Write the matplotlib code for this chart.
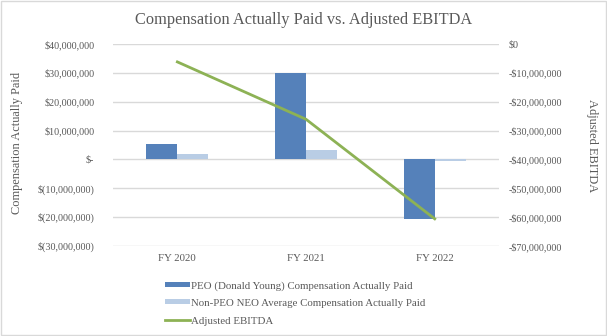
import numpy as np
import matplotlib.pyplot as plt
from matplotlib.ticker import FuncFormatter, FixedLocator
from matplotlib.patches import Rectangle

plt.rcParams['font.family'] = ['Liberation Serif', 'DejaVu Serif']

# données
annees = ["FY 2020", "FY 2021", "FY 2022"]
peo = [5.3e6, 30.0e6, -20.7e6]
non_peo = [1.8e6, 3.4e6, -0.5e6]
ebitda = [-6.2e6, -26.1e6, -60.6e6]

gris = "#595959"
c_peo = "#5581BA"
c_non = "#B9CDE5"
c_line = "#8DB255"

def fmt_gauche(v, pos):
    if abs(v) < 1:
        return "$-"
    if v < 0:
        return "$({:,.0f})".format(-v)
    return "${:,.0f}".format(v)

def fmt_droite(v, pos):
    if abs(v) < 1:
        return "$0"
    if v < 0:
        return "-${:,.0f}".format(-v)
    return "${:,.0f}".format(v)

fig = plt.figure(figsize=(6.07, 3.36), dpi=100)
fig.patches.append(Rectangle((0.001, 0.002), 0.997, 0.995, transform=fig.transFigure,
                             fill=False, edgecolor="#D9D9D9", linewidth=1))
ax = fig.add_axes([0.1862, 0.268, 0.636, 0.601])
x = np.arange(len(annees))
w = 0.24
b1 = ax.bar(x - w/2, peo, w, color=c_peo, label="PEO (Donald Young) Compensation Actually Paid", zorder=2)
b2 = ax.bar(x + w/2, non_peo, w, color=c_non, label="Non-PEO NEO Average Compensation Actually Paid", zorder=2)
ax.set_xlim(-0.5, 2.5)
ax.set_ylim(-30e6, 40e6)
ax.yaxis.set_major_locator(FixedLocator(np.arange(-30e6, 40e6 + 1, 10e6)))
ax.yaxis.set_major_formatter(FuncFormatter(fmt_gauche))
ax.set_xticks(x)
ax.set_xticklabels(annees)
ax.grid(axis="y", color="#D9D9D9", linewidth=1, zorder=0)
ax.set_axisbelow(True)
for s in ax.spines.values():
    s.set_visible(False)
ax.tick_params(length=0, colors=gris, labelsize=7.3, pad=13.5)
ax.tick_params(axis="x", labelsize=7.8, pad=6)
ax.set_ylabel("Compensation Actually Paid", color=gris, fontsize=8.9)
ax.yaxis.set_label_coords(23 / 607, 1 - 142.5 / 336, transform=fig.transFigure)

ax2 = ax.twinx()
l1, = ax2.plot(x, ebitda, color=c_line, linewidth=2, label="Adjusted EBITDA", zorder=3)
ax2.set_ylim(-70e6, 0)
ax2.yaxis.set_major_locator(FixedLocator(np.arange(-70e6, 1, 10e6)))
ax2.yaxis.set_major_formatter(FuncFormatter(fmt_droite))
for s in ax2.spines.values():
    s.set_visible(False)
ax2.tick_params(length=0, colors=gris, labelsize=7.3, pad=7)
ax2.set_ylabel("Adjusted EBITDA", color=gris, fontsize=8.9, rotation=270, va="center")
ax2.yaxis.set_label_coords(592 / 607, 1 - 146 / 336, transform=fig.transFigure)

fig.suptitle("Compensation Actually Paid vs. Adjusted EBITDA", color=gris, fontsize=11.8,
             y=1 - 20 / 336, va="center")

leg = fig.legend([b1, b2, l1], [b1.get_label(), b2.get_label(), l1.get_label()],
                 loc="upper left", bbox_to_anchor=(160 / 607, 1 - 276 / 336), frameon=False,
                 fontsize=7.8, labelcolor=gris, handlelength=2.3, handletextpad=0.1,
                 labelspacing=0.7, borderpad=0)
for h in leg.legend_handles[:2]:
    h.set_height(3.5)
    h.set_y(1.5)

fig.savefig("out.png", dpi=100)
